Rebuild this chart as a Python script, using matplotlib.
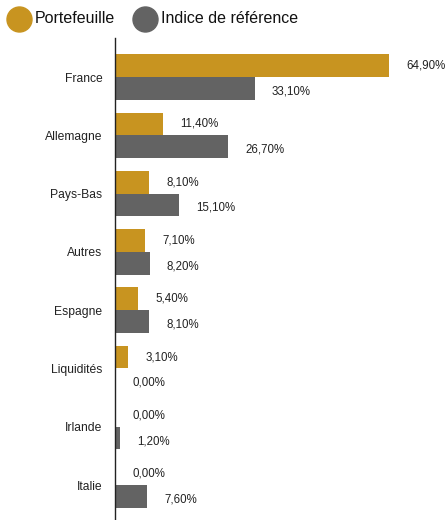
import numpy as np
import matplotlib.pyplot as plt
from matplotlib.lines import Line2D

plt.rcParams['font.family'] = ['Liberation Sans', 'DejaVu Sans']

categories = ['France', 'Allemagne', 'Pays-Bas', 'Autres', 'Espagne',
              'Liquidités', 'Irlande', 'Italie']
portefeuille = [64.9, 11.4, 8.1, 7.1, 5.4, 3.1, 0.0, 0.0]
indice = [33.1, 26.7, 15.1, 8.2, 8.1, 0.0, 1.2, 7.6]
series_names = ['Portefeuille', 'Indice de référence']

GOLD = '#C89420'
GREY = '#636363'
W, H = 446, 520


def fmt(v):
    return f"{v:.2f}".replace('.', ',') + '%'


fig = plt.figure(figsize=(W / 100, H / 100), dpi=100)
ax = fig.add_axes([115 / W, 0, 331 / W, 1 - 38 / H])

y = np.arange(len(categories))
h = 0.39
ax.barh(y - h / 2, portefeuille, height=h, color=GOLD)
ax.barh(y + h / 2, indice, height=h, color=GREY)

for yi, p, r in zip(y, portefeuille, indice):
    ax.text(p + 4.1, yi - h / 2, fmt(p), va='center', ha='left',
            fontsize=8.3, color='#222222', clip_on=False)
    ax.text(r + 4.1, yi + h / 2 + 0.05, fmt(r), va='center', ha='left',
            fontsize=8.3, color='#222222', clip_on=False)

ax.set_xlim(0, 78.4)
ax.set_ylim(7.6, -0.67)
ax.set_yticks(y)
ax.set_yticklabels(categories, fontsize=8.7, color='#222222')
ax.tick_params(axis='y', length=0, pad=9)
ax.set_xticks([])
for s in ['top', 'right', 'bottom']:
    ax.spines[s].set_visible(False)
ax.spines['left'].set_linewidth(1.0)
ax.spines['left'].set_color('#222222')

# legend drawn by hand: circle + text
for (cx, tx), name, c in zip([(19, 35), (145, 161)], series_names, (GOLD, GREY)):
    fig.add_artist(Line2D([cx / W], [1 - 19 / H], transform=fig.transFigure,
                          marker='o', markersize=18, linestyle='',
                          markerfacecolor=c, markeredgecolor=c))
    fig.text(tx / W, 1 - 18.5 / H, name, fontsize=11.5, va='center', ha='left',
             color='#111111')

fig.savefig('out.png', dpi=100)
